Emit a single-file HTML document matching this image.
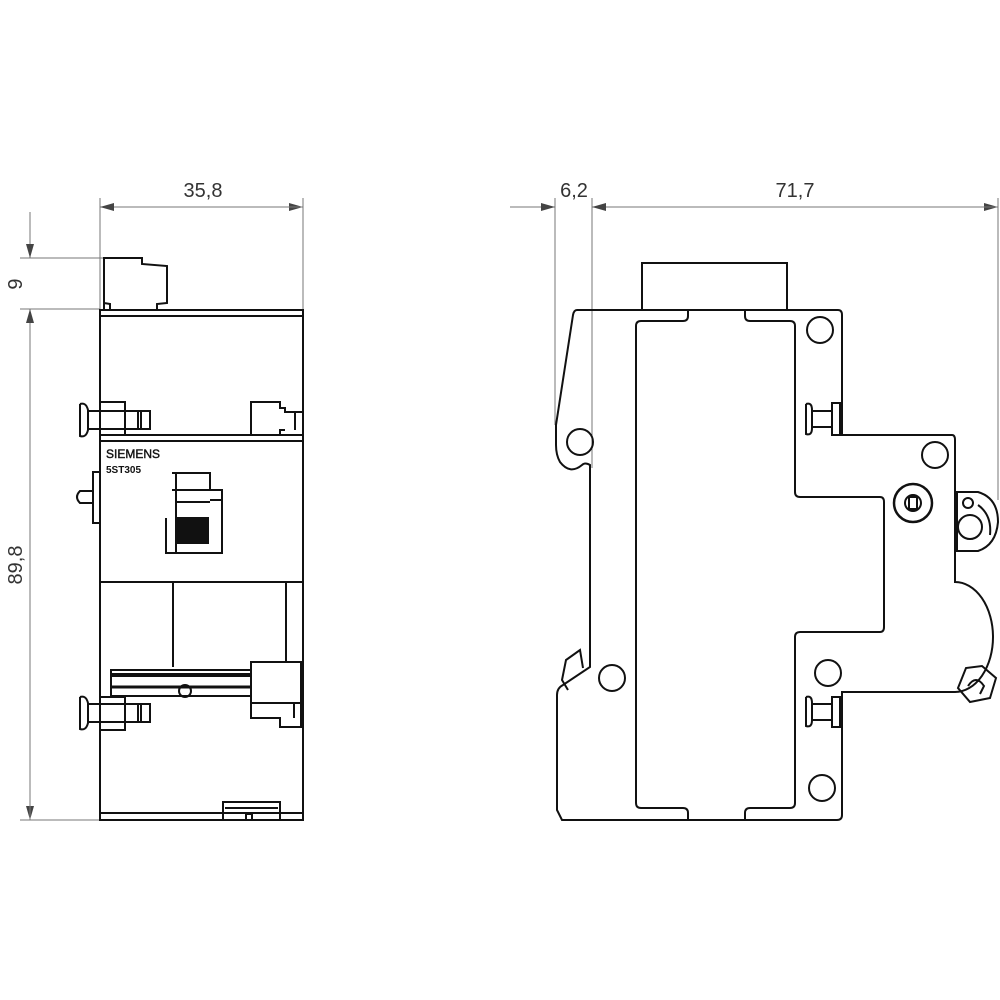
<!DOCTYPE html>
<html><head><meta charset="utf-8"><style>body{margin:0;background:#fff}svg{display:block}</style></head><body>
<svg width="1000" height="1000" viewBox="0 0 1000 1000" xmlns="http://www.w3.org/2000/svg">
<defs>
<marker id="a" markerWidth="14" markerHeight="8" refX="14" refY="4" orient="auto" markerUnits="userSpaceOnUse"><path d="M0,0 L14,4 L0,8 Z" fill="#444"/></marker>
</defs>
<g stroke="#777" stroke-width="1" fill="none">
<line x1="100" y1="198" x2="100" y2="310"/><line x1="303" y1="198" x2="303" y2="310"/>
<line x1="100" y1="207" x2="303" y2="207" marker-end="url(#a)"/><line x1="303" y1="207" x2="100" y2="207" marker-end="url(#a)"/>
<line x1="20" y1="258" x2="105" y2="258"/><line x1="20" y1="309" x2="100" y2="309"/><line x1="20" y1="820" x2="100" y2="820"/>
<line x1="30" y1="212" x2="30" y2="258" marker-end="url(#a)"/>
<line x1="30" y1="309" x2="30" y2="820" marker-end="url(#a)"/><line x1="30" y1="820" x2="30" y2="309" marker-end="url(#a)"/>
<line x1="555" y1="198" x2="555" y2="425"/><line x1="592" y1="198" x2="592" y2="468"/><line x1="998" y1="198" x2="998" y2="500"/>
<line x1="510" y1="207" x2="555" y2="207" marker-end="url(#a)"/>
<line x1="592" y1="207" x2="998" y2="207" marker-end="url(#a)"/><line x1="998" y1="207" x2="592" y2="207" marker-end="url(#a)"/>
</g>
<g font-family="Liberation Sans, sans-serif" font-size="20" fill="#333">
<text x="203" y="197" text-anchor="middle">35,8</text>
<text x="574" y="197" text-anchor="middle">6,2</text>
<text x="795" y="197" text-anchor="middle">71,7</text>
<text transform="translate(22,284) rotate(-90)" text-anchor="middle">9</text>
<text transform="translate(22,565) rotate(-90)" text-anchor="middle">89,8</text>
</g>
<g stroke="#111" stroke-width="2" fill="none">
<rect x="100" y="310" width="203" height="510"/>
<line x1="100" y1="316" x2="303" y2="316"/>
<line x1="100" y1="435" x2="303" y2="435"/><line x1="100" y1="441" x2="303" y2="441"/>
<line x1="100" y1="582" x2="303" y2="582"/><line x1="100" y1="813" x2="303" y2="813"/>
<path d="M104,310 L104,258 L142,258 L142,264 L167,266 L167,303 L157,304 L157,310 M104,303 L110,304 L110,310"/>
<rect x="100" y="402" width="25" height="33"/><path d="M88,411 L150,411 L150,429 L88,429 M80,404 L80,436 Q86,438 88,430 L88,410 Q86,402 80,404"/>
<line x1="138" y1="411" x2="138" y2="429"/><line x1="141" y1="411" x2="141" y2="429"/>
<path d="M251,435 L251,402 L280,402 L280,408 L285,408 L285,412 L303,412 M285,430 L280,430 L280,435 M295,412 L295,430"/>
<path d="M100,472 L93,472 L93,523 L100,523 M93,491 L80,491 Q74,497 80,503 L93,503"/>
<path d="M172,473 L210,473 L210,490 L222,490 L222,553 L176,553 L176,473 M172,490 L210,490 M176,502 L210,502 M210,500 L222,500 M166,518 L166,553 L176,553"/>
<rect x="178" y="518" width="30" height="25" fill="#111"/>
<line x1="173" y1="582" x2="173" y2="667"/><line x1="286" y1="582" x2="286" y2="662"/>
<rect x="111" y="670" width="140" height="26"/><line x1="111" y1="675" x2="251" y2="675" stroke-width="4"/><line x1="111" y1="687" x2="251" y2="687" stroke-width="3"/>
<circle cx="185" cy="691" r="6"/>
<path d="M251,662 L301,662 L301,727 L280,727 L280,718 L251,718 Z M251,703 L301,703 M294,703 L294,718"/>
<rect x="100" y="697" width="25" height="33"/><path d="M88,704 L150,704 L150,722 L88,722 M80,697 L80,729 Q86,731 88,723 L88,703 Q86,695 80,697"/>
<line x1="138" y1="704" x2="138" y2="722"/><line x1="141" y1="704" x2="141" y2="722"/>
<path d="M223,820 L223,802 L280,802 L280,820 M225,808 L278,808 M246,820 L246,814 L252,814 L252,820"/>
<rect x="642" y="263" width="145" height="47"/>
<path d="M577,310 L838,310 Q842,310 842,315 L842,435 L952,435 Q955,435 955,440 L955,582 A38,55 0 0 1 955,692 L842,692 L842,815 Q842,820 837,820 L562,820 L557,810 L557,695 Q557,688 563,685 L590,667 L590,465 Q585,462 582,465 Q570,475 560,462 Q556,455 556,445 L556,425 L573,315 Q574,310 577,310 Z"/>
<path d="M568,690 L562,680 L566,660 L580,650 L583,668"/>
<path d="M688,310 L688,316 Q688,321 683,321 L641,321 Q636,321 636,326 L636,803 Q636,808 641,808 L683,808 Q688,808 688,813 L688,820 M745,310 L745,316 Q745,321 750,321 L790,321 Q795,321 795,326 L795,492 Q795,497 800,497 L880,497 Q884,497 884,502 L884,627 Q884,632 880,632 L800,632 Q795,632 795,637 L795,803 Q795,808 790,808 L750,808 Q745,808 745,813 L745,820"/>
<circle cx="820" cy="330" r="13"/><circle cx="580" cy="442" r="13"/><circle cx="935" cy="455" r="13"/>
<circle cx="612" cy="678" r="13"/><circle cx="828" cy="673" r="13"/><circle cx="822" cy="788" r="13"/>
<circle cx="913" cy="503" r="19" stroke-width="2.5"/><circle cx="913" cy="503" r="8"/><rect x="909" y="497" width="8" height="12"/>
<path d="M957,492 L978,492 Q998,498 998,522 Q996,545 978,551 L957,551 Z"/><circle cx="970" cy="527" r="12"/><circle cx="968" cy="503" r="5"/><path d="M978,505 Q992,515 990,535"/>
<path d="M958,688 L966,668 L982,666 L996,678 L990,698 L970,702 Z M968,686 Q976,674 984,686 L980,694"/>
<rect x="832" y="403" width="8" height="32"/><path d="M812,411 L832,411 M812,427 L832,427 M806,404 L806,434 Q812,436 812,428 L812,410 Q812,402 806,404"/>
<rect x="832" y="697" width="8" height="30"/><path d="M812,704 L832,704 M812,720 L832,720 M806,697 L806,726 Q812,728 812,720 L812,703 Q812,695 806,697"/>
</g>
<text x="106" y="458" font-family="Liberation Sans, sans-serif" font-size="12" fill="#111" stroke="#111" stroke-width="0.4">SIEMENS</text>
<text x="106" y="473" font-family="Liberation Sans, sans-serif" font-size="10" font-weight="bold" fill="#111">5ST305</text>
</svg>
</body></html>
